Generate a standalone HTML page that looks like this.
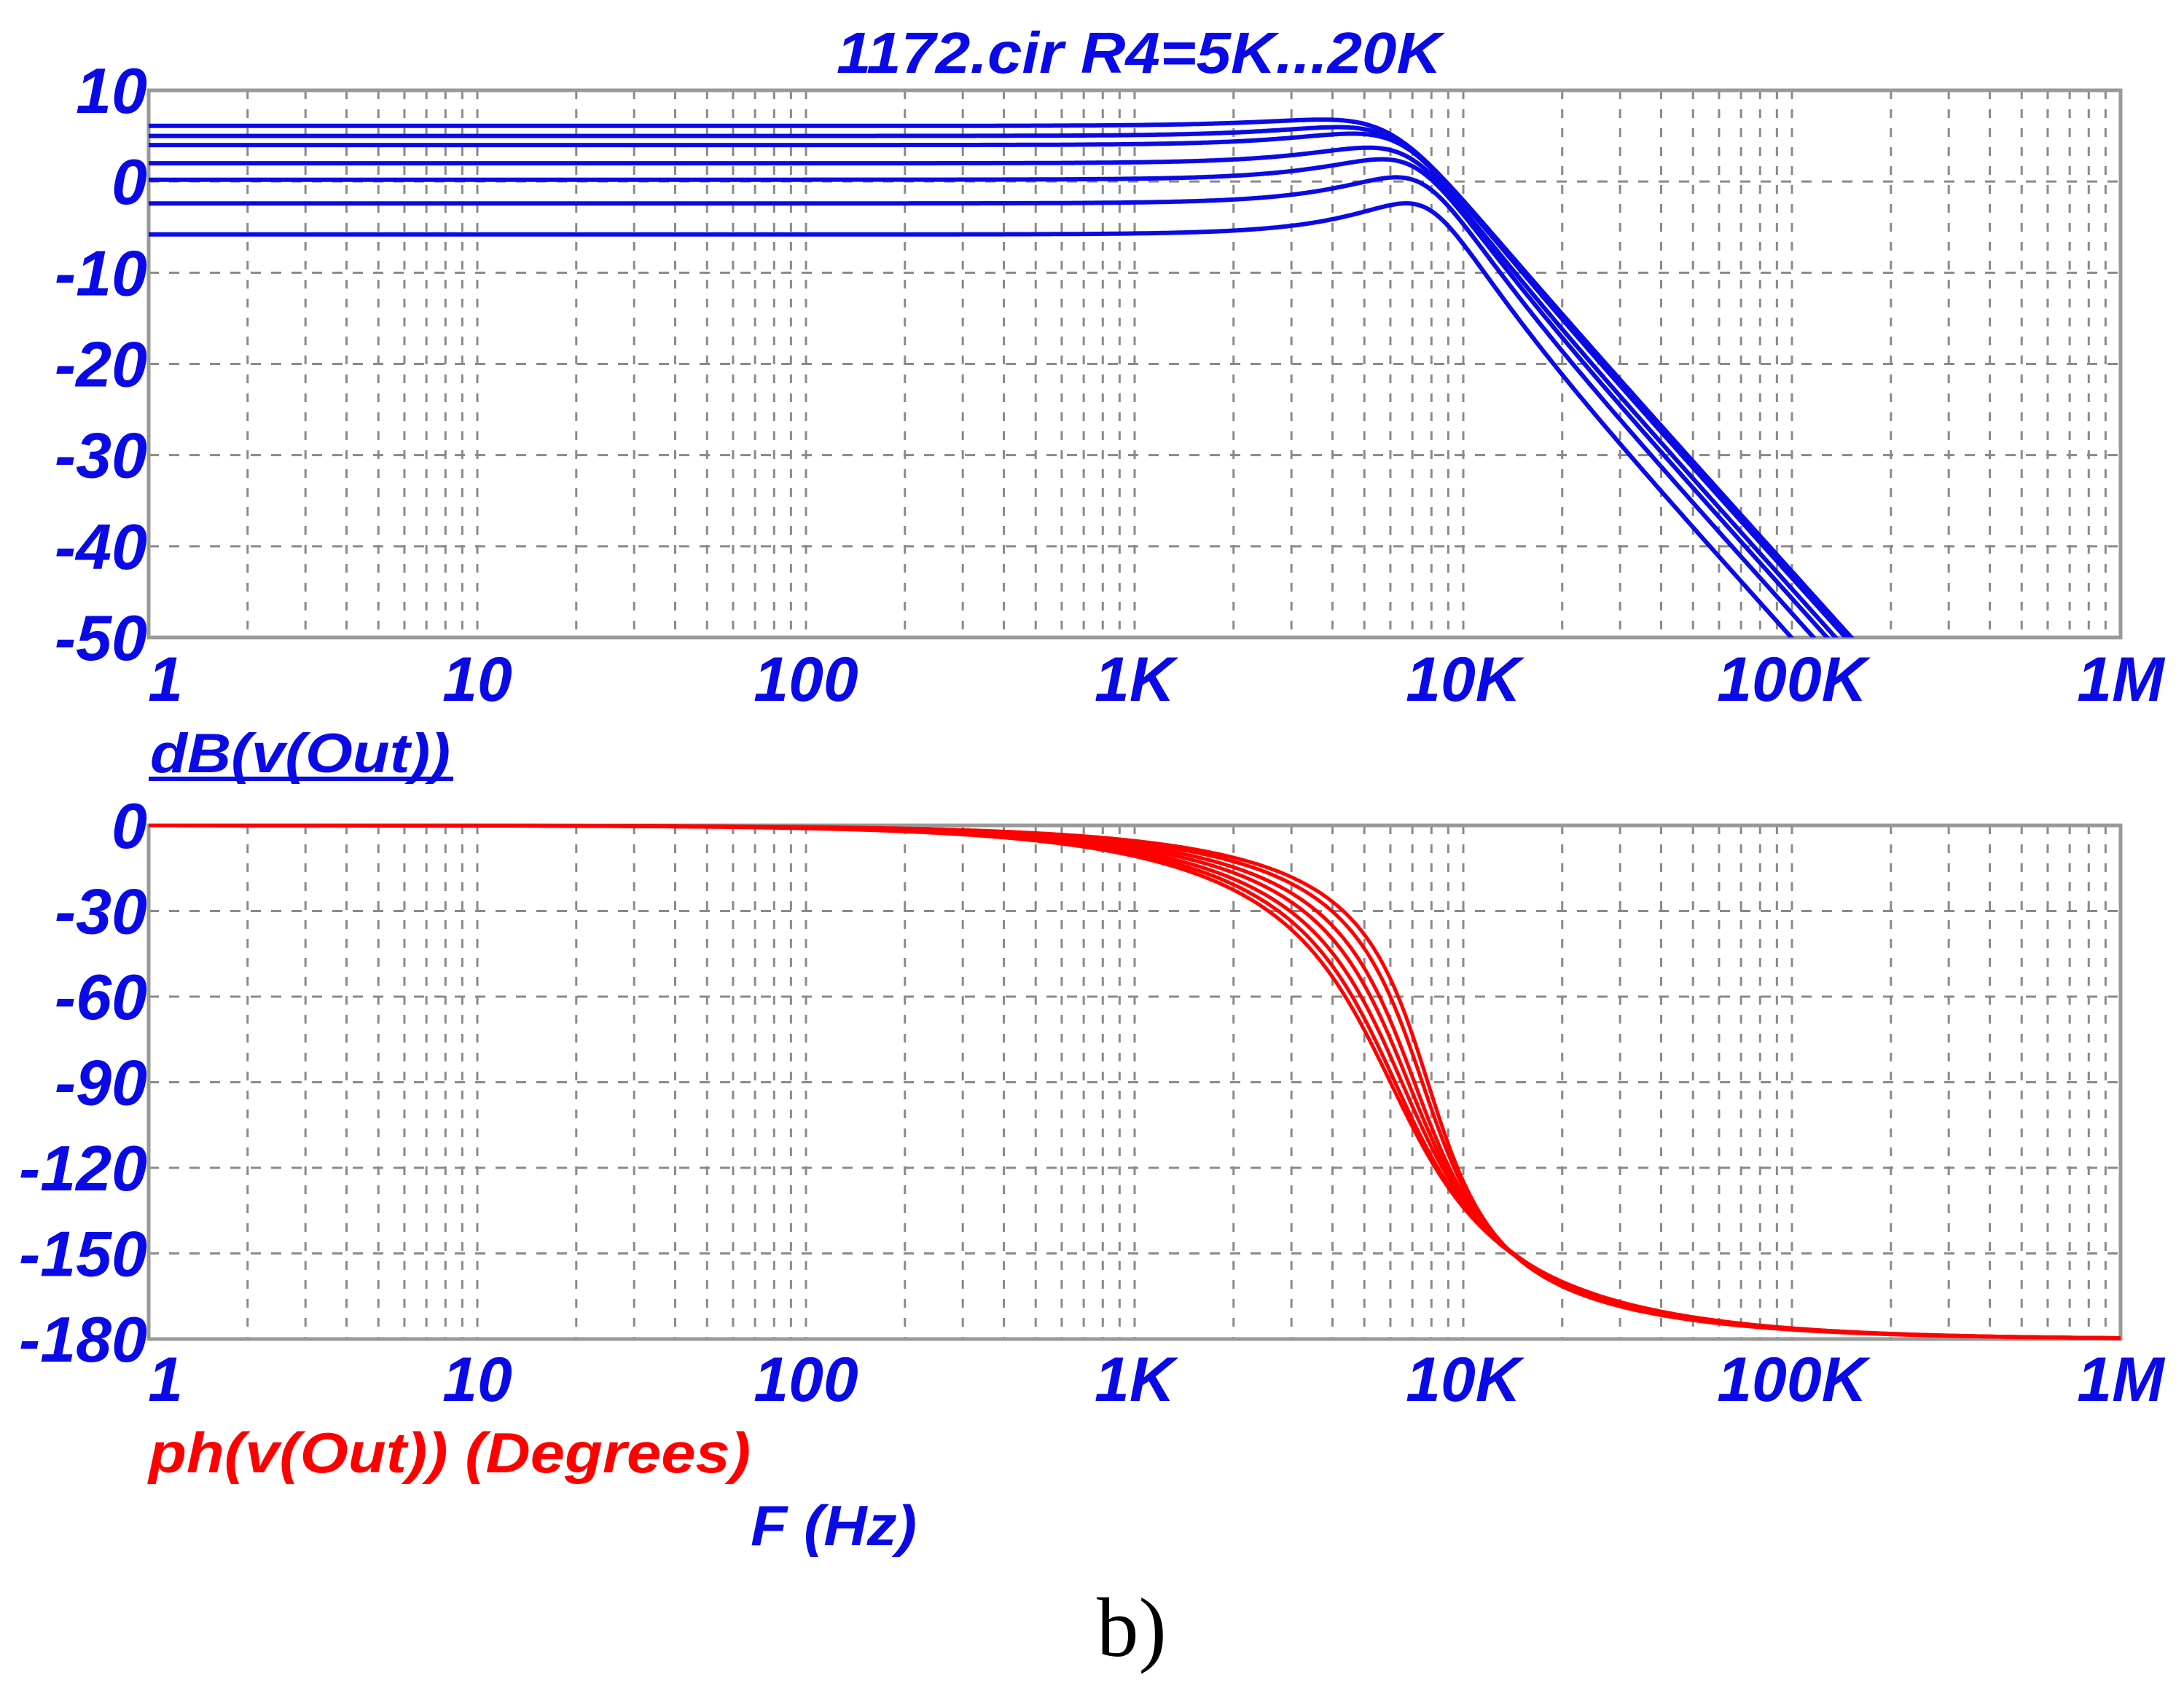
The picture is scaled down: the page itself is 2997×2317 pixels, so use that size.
<!DOCTYPE html>
<html><head><meta charset="utf-8">
<style>
html,body{margin:0;padding:0;background:#fff;}
svg{display:block;}
text{font-family:"Liberation Sans",Arial,sans-serif;font-weight:bold;font-style:italic;}
</style></head>
<body>
<svg id="chart" xmlns="http://www.w3.org/2000/svg" width="2997" height="2317" viewBox="0 0 2997 2317">
<rect x="0" y="0" width="2997" height="2317" fill="#fff"/>
<text x="1563" y="100" text-anchor="middle" font-size="80" fill="#0a0ae6" textLength="830" lengthAdjust="spacingAndGlyphs">1172.cir R4=5K...20K</text>
<g id="gtop"></g>
<g id="gbot"></g>
<text x="206" y="1060" font-size="76" fill="#0a0ae6" textLength="412" lengthAdjust="spacingAndGlyphs">dB(v(Out))</text>
<rect x="204" y="1066" width="418" height="6" fill="#0a0ae6"/>
<text x="204" y="2021" font-size="78" fill="#ff0000" textLength="826" lengthAdjust="spacingAndGlyphs">ph(v(Out)) (Degrees)</text>
<text x="1030" y="2121" font-size="78" fill="#0a0ae6" textLength="228" lengthAdjust="spacingAndGlyphs">F (Hz)</text>
<text x="1505" y="2273" font-size="115" fill="#000" style="font-family:'Liberation Serif',serif;font-weight:normal;font-style:normal">b)</text>
</svg>
<script>
// --- data ---
const xTickLabels = ["1","10","100","1K","10K","100K","1M"];
const magTicks = [10,0,-10,-20,-30,-40,-50];
const phaseTicks = [0,-30,-60,-90,-120,-150,-180];
// per-curve parameters (R4 sweep): DC gain (dB), natural freq (Hz), Q
const dcGainDb = [6.1, 5.0, 4.0, 2.0, 0.2, -2.4, -5.8];
const naturalFreq = [6000, 6200, 6500, 6800, 7100, 7500, 7800];
const qFactor = [0.9, 0.95, 1.0, 1.08, 1.17, 1.28, 1.38];

const NS = "http://www.w3.org/2000/svg";
const X0 = 204, X1 = 2910;
const xScale = f => X0 + Math.log10(f) / 6 * (X1 - X0);
const pTop = {y0: 124, y1: 875, vmax: 10, vmin: -50};
const pBot = {y0: 1133, y1: 1838, vmax: 0, vmin: -180};
const yScale = (p, v) => p.y0 + (p.vmax - v) / (p.vmax - p.vmin) * (p.y1 - p.y0);

function mk(tag, attrs, parent) {
  const e = document.createElementNS(NS, tag);
  for (const k in attrs) e.setAttribute(k, attrs[k]);
  parent.appendChild(e);
  return e;
}

function drawPanel(g, p, ticks, labelY, prefix) {
  for (let d = 0; d < 6; d++) {
    for (let m = 1; m <= 9; m++) {
      if (d === 0 && m === 1) continue;
      const x = xScale(m * Math.pow(10, d));
      const l = mk("line", {x1: x, x2: x, y1: p.y0, y2: p.y1, stroke: "#8a8a8a", "stroke-width": 3, "stroke-dasharray": "12 14"}, g);
      
      
    }
  }
  ticks.forEach(v => {
    const y = yScale(p, v);
    if (v !== p.vmax && v !== p.vmin) {
      const l = mk("line", {x1: X0, x2: X1, y1: y, y2: y, stroke: "#8a8a8a", "stroke-width": 3, "stroke-dasharray": "14 14"}, g);
      
      
    }
    const t = mk("text", {x: 202, y: y + 31, "text-anchor": "end", "font-size": 88, fill: "#0a0ae6"}, g);
    t.textContent = String(v);
    
    
  });
  const r = mk("rect", {x: X0, y: p.y0, width: X1 - X0, height: p.y1 - p.y0, fill: "none", stroke: "#999", "stroke-width": 5}, g);
  
  
  xTickLabels.forEach((s, i) => {
    const x = i === 0 ? 227 : xScale(Math.pow(10, i));
    const t = mk("text", {x: x, y: labelY, "text-anchor": "middle", "font-size": 86, fill: "#0a0ae6"}, g);
    t.textContent = s;
    
    
  });
}

const gTop = document.getElementById("gtop");
const gBot = document.getElementById("gbot");
drawPanel(gTop, pTop, magTicks, 962, "magnitude");
drawPanel(gBot, pBot, phaseTicks, 1923, "phase");

function response(i, f) {
  const u = f / naturalFreq[i];
  const re = 1 - u * u, im = u / qFactor[i];
  const mag = dcGainDb[i] - 10 * Math.log10(re * re + im * im);
  const ph = -Math.atan2(im, re) * 180 / Math.PI;
  return [mag, ph];
}

const defs = mk("defs", {}, document.getElementById("chart"));
const cp = mk("clipPath", {id: "clipTop"}, defs);
mk("rect", {x: X0, y: pTop.y0 - 10, width: X1 - X0, height: pTop.y1 - pTop.y0 + 10}, cp);

for (let i = 0; i < dcGainDb.length; i++) {
  let dm = "", dp = "";
  for (let k = 0; k <= 1200; k++) {
    const f = Math.pow(10, k * 6 / 1200);
    const r = response(i, f);
    const x = xScale(f).toFixed(1);
    dm += (k ? "L" : "M") + x + "," + yScale(pTop, Math.max(r[0], -60)).toFixed(1);
    dp += (k ? "L" : "M") + x + "," + yScale(pBot, r[1]).toFixed(1);
  }
  const pm = mk("path", {d: dm, fill: "none", stroke: "#0a0ae6", "stroke-width": 6, "clip-path": "url(#clipTop)"}, gTop);
  
  
  const pp = mk("path", {d: dp, fill: "none", stroke: "#ff0000", "stroke-width": 5}, gBot);
  
  
}
</script>
</body></html>
